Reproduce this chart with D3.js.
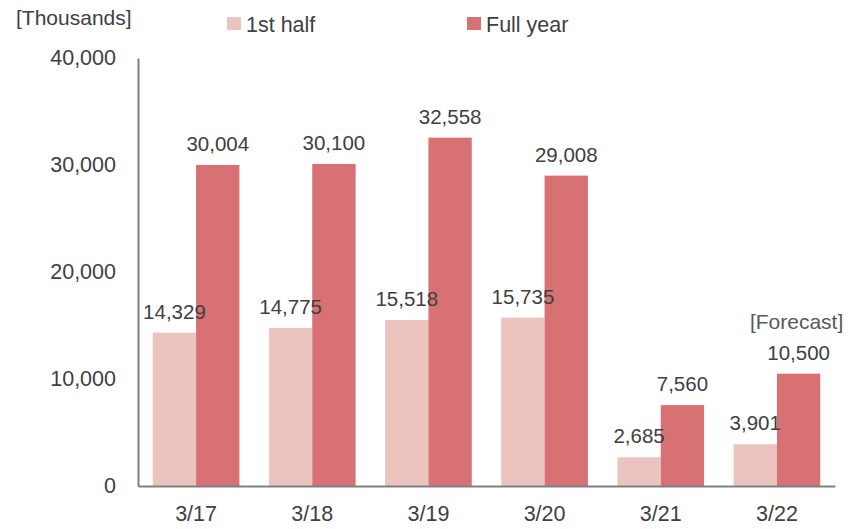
<!DOCTYPE html>
<html>
<head>
<meta charset="utf-8">
<script src="https://cdn.jsdelivr.net/npm/d3@7"></script>
<style>
  html, body { margin: 0; background: #fff; overflow: hidden; }
  svg { display: block; }
  svg text { font-family: "Liberation Sans", Arial, sans-serif; fill: #404040; }
</style>
</head>
<body>
<div id="chart"></div>
<script>
// Data
const categories = ['3/17', '3/18', '3/19', '3/20', '3/21', '3/22']
const firstHalf = [14329, 14775, 15518, 15735, 2685, 3901]
const fullYear = [30004, 30100, 32558, 29008, 7560, 10500]
const yTicks = [0, 10000, 20000, 30000, 40000]
const seriesNames = ['1st half', 'Full year']
const colors = ['#ebc4c0', '#d77173']

// Vars for dimensions
const width = 852
const height = 529
const margin = { top: 58, right: 17, bottom: 43, left: 138 }
const innerWidth = width - margin.left - margin.right
const innerHeight = height - margin.top - margin.bottom

const svg = d3.select('#chart')
  .append('svg')
  .attr('width', width)
  .attr('height', height)

const g = svg.append('g')
  .attr('transform', `translate(${margin.left}, ${margin.top})`)

// Scales
const xScale = d3.scaleBand()
  .domain(categories)
  .range([0, innerWidth])
  .paddingInner(0.254)
  .paddingOuter(0.127)

const subScale = d3.scaleBand()
  .domain(seriesNames)
  .range([0, xScale.bandwidth()])

const yScale = d3.scaleLinear()
  .domain([0, 40000])
  .range([innerHeight, 0])

const rows = categories.map((c, i) => ({ cat: c, values: [firstHalf[i], fullYear[i]] }))
const fmt = d3.format(',')

// Bars
const groups = g.selectAll('.grp')
  .data(rows)
  .enter()
  .append('g')
  .attr('transform', d => `translate(${xScale(d.cat)}, 0)`)

groups.selectAll('rect')
  .data(d => d.values.map((v, j) => ({ name: seriesNames[j], value: v, j })))
  .enter()
  .append('rect')
  .attr('x', d => subScale(d.name))
  .attr('y', d => yScale(d.value))
  .attr('width', subScale.bandwidth())
  .attr('height', d => innerHeight - yScale(d.value))
  .attr('fill', d => colors[d.j])

// Value labels
groups.selectAll('text.val')
  .data(d => d.values.map((v, j) => ({ name: seriesNames[j], value: v })))
  .enter()
  .append('text')
  .attr('class', 'val')
  .attr('x', d => subScale(d.name) + subScale.bandwidth() / 2)
  .attr('y', d => yScale(d.value) - 14)
  .attr('text-anchor', 'middle')
  .style('font-size', '20.5px')
  .text(d => fmt(d.value))

// Forecast note above the last full-year label
g.append('text')
  .attr('x', xScale('3/22') + subScale('Full year') + subScale.bandwidth() / 2 - 2)
  .attr('y', yScale(fullYear[5]) - 45)
  .attr('text-anchor', 'middle')
  .style('font-size', '21px')
  .style('fill', '#595959')
  .text('[Forecast]')

// Left axis - no tick marks
const yAxis = g.append('g')
  .call(d3.axisLeft(yScale).tickValues(yTicks).tickSize(0).tickPadding(22).tickFormat(fmt))
yAxis.select('.domain').attr('stroke', '#808080').attr('stroke-width', 2)
yAxis.selectAll('text').style('font-size', '21.5px').style('fill', '#404040').attr('font-family', null)

// Bottom axis - categories
const xAxis = g.append('g')
  .attr('transform', `translate(0, ${innerHeight})`)
  .call(d3.axisBottom(xScale).tickSize(0).tickPadding(20))
xAxis.select('.domain').attr('stroke', '#808080').attr('stroke-width', 2)
xAxis.selectAll('text').style('font-size', '21.5px').style('fill', '#404040').attr('font-family', null)

// Unit label
svg.append('text')
  .attr('x', 16)
  .attr('y', 25)
  .style('font-size', '21px')
  .text('[Thousands]')

// Legend
const legendX = [227, 467]
const legend = svg.selectAll('.legend')
  .data(seriesNames)
  .enter()
  .append('g')
  .attr('transform', (d, i) => `translate(${legendX[i]}, 17)`)

legend.append('rect')
  .attr('width', 14)
  .attr('height', 13)
  .attr('fill', (d, i) => colors[i])

legend.append('text')
  .attr('x', 19)
  .attr('y', 15)
  .style('font-size', '21.5px')
  .text(d => d)
</script>
</body>
</html>
